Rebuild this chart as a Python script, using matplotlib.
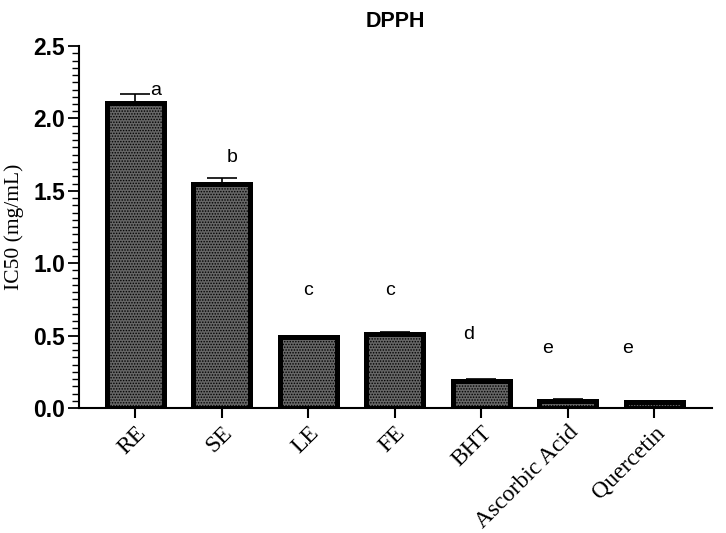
import numpy as np
import matplotlib.pyplot as plt
from matplotlib.ticker import MultipleLocator

# data
samples = ['RE', 'SE', 'LE', 'FE', 'BHT', 'Ascorbic Acid', 'Quercetin']
ic50 = [2.11, 1.55, 0.49, 0.51, 0.19, 0.048, 0.042]
sd = [0.06, 0.04, 0.01, 0.012, 0.008, 0.012, 0.008]
letters = ['a', 'b', 'c', 'c', 'd', 'e', 'e']
letter_y = [2.16, 1.70, 0.78, 0.78, 0.48, 0.38, 0.38]
letter_dx = [0.23, 0.12, 0.0, -0.06, -0.15, -0.23, -0.31]

plt.rcParams['hatch.color'] = '#c8c8c8'
plt.rcParams['hatch.linewidth'] = 0.7

fig = plt.figure(figsize=(7.26, 5.33), dpi=100)
ax = fig.add_axes([0.109, 0.2345, 0.872, 0.679])

x = np.arange(len(samples))
ax.bar(x, ic50, width=0.66, color='#666666', edgecolor='black',
       linewidth=3.6, hatch='......', zorder=2)
ax.errorbar(x, ic50, yerr=[np.zeros(len(sd)), sd], fmt='none',
            ecolor='black', elinewidth=1.2, capsize=10.5, capthick=1.2, zorder=3)

for i, lab in enumerate(letters):
    ax.text(x[i] + letter_dx[i], letter_y[i], lab, ha='center', va='baseline',
            fontsize=14, family='Liberation Sans')

ax.set_xlim(-0.65, 6.67)
ax.set_ylim(0, 2.5)
ax.yaxis.set_major_locator(MultipleLocator(0.5))
ax.yaxis.set_minor_locator(MultipleLocator(0.05))
ax.set_xticks(x)
ax.set_xticklabels(samples, rotation=45, ha='right', rotation_mode='anchor',
                   family='Liberation Serif', fontsize=17)
for t in ax.get_yticklabels():
    t.set_family('Liberation Sans')
    t.set_fontweight('bold')
    t.set_fontsize(16.5)

ax.tick_params(axis='y', which='major', length=8, width=1.3, pad=2)
ax.tick_params(axis='y', which='minor', length=5, width=1.0)
ax.tick_params(axis='x', length=7, width=1.5, pad=3)

ax.spines['top'].set_visible(False)
ax.spines['right'].set_visible(False)
ax.spines['left'].set_linewidth(1.5)
ax.spines['bottom'].set_linewidth(1.5)

ax.set_ylabel('IC50 (mg/mL)', family='Liberation Serif', fontsize=15.5, labelpad=7)
ax.set_title('DPPH', family='Liberation Sans', fontweight='bold', fontsize=15.5, pad=14)

plt.savefig('out.png', dpi=100)
